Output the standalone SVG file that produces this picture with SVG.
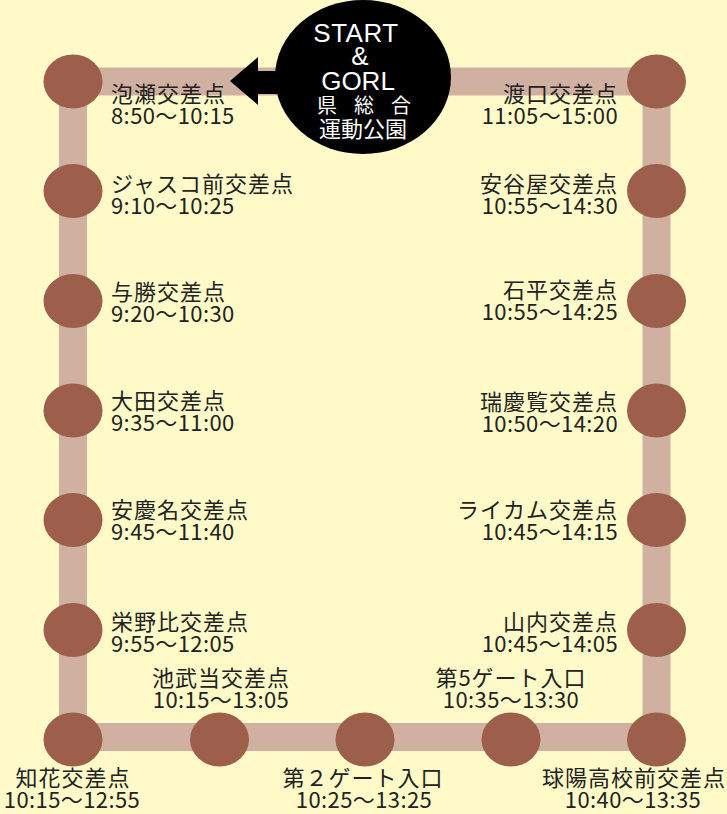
<svg xmlns="http://www.w3.org/2000/svg" width="727" height="814" viewBox="0 0 727 814">
<style>
.bg{fill:#FFFAC8}
.track{fill:none;stroke:#D0B0A0;stroke-width:28}
.stop{fill:#9D5E4C}
.lbl{font-family:"Noto Sans CJK JP","Noto Sans",sans-serif;font-size:22px;fill:#222;letter-spacing:1px}
.t{letter-spacing:0.4px}
.r{text-anchor:end}
.c{text-anchor:middle}
.w{font-family:"Noto Sans CJK JP","Noto Sans",sans-serif;fill:#fff;text-anchor:middle}
.lat{font-family:"Liberation Sans",sans-serif;font-size:26px}
</style>
<rect class="bg" x="0" y="0" width="727" height="814"/>
<g id="connectors">
<path class="track" d="M73 81.5 H656.5 V737 H73 Z"/>
</g>
<g id="n-start">
<polygon points="230,81 258,57 258,71 290,71 290,94 258,94 258,105" fill="#000"/>
<ellipse cx="363" cy="77" rx="88" ry="77" fill="#000"/>
<text class="w lat" x="356" y="42" letter-spacing="0.5">START</text>
<text class="w lat" x="360" y="65">&amp;</text>
<text class="w lat" x="358" y="90">GORL</text>
<text class="w" x="327 364 401" y="113" font-size="20">県総合</text>
<text class="w" x="363" y="137" font-size="22">運動公園</text>
</g>
<g id="n-awase"><ellipse class="stop" cx="73" cy="81.5" rx="29.5" ry="27"/><text class="lbl" x="111" y="102">泡瀬交差点</text><text class="lbl t" x="111" y="124">8:50〜10:15</text></g>
<g id="n-jusco"><ellipse class="stop" cx="73" cy="191" rx="29.5" ry="27"/><text class="lbl" x="111" y="192">ジャスコ前交差点</text><text class="lbl t" x="111" y="214">9:10〜10:25</text></g>
<g id="n-yokatsu"><ellipse class="stop" cx="73" cy="301" rx="29.5" ry="27"/><text class="lbl" x="111" y="300">与勝交差点</text><text class="lbl t" x="111" y="322">9:20〜10:30</text></g>
<g id="n-ota"><ellipse class="stop" cx="73" cy="410.5" rx="29.5" ry="27"/><text class="lbl" x="111" y="409">大田交差点</text><text class="lbl t" x="111" y="431">9:35〜11:00</text></g>
<g id="n-agena"><ellipse class="stop" cx="73" cy="520" rx="29.5" ry="27"/><text class="lbl" x="111" y="518">安慶名交差点</text><text class="lbl t" x="111" y="540">9:45〜11:40</text></g>
<g id="n-eiji"><ellipse class="stop" cx="73" cy="630" rx="29.5" ry="27"/><text class="lbl" x="111" y="630">栄野比交差点</text><text class="lbl t" x="111" y="652">9:55〜12:05</text></g>
<g id="n-chibana"><ellipse class="stop" cx="73" cy="739.5" rx="29.5" ry="27"/><text class="lbl c" x="73" y="786">知花交差点</text><text class="lbl t c" x="72" y="808">10:15〜12:55</text></g>
<g id="n-iketake"><ellipse class="stop" cx="219.5" cy="739.5" rx="29.5" ry="27"/><text class="lbl c" x="221" y="686">池武当交差点</text><text class="lbl t c" x="221" y="708">10:15〜13:05</text></g>
<g id="n-gate2"><ellipse class="stop" cx="365" cy="739.5" rx="29.5" ry="27"/><text class="lbl c" x="363" y="786">第２ゲート入口</text><text class="lbl t c" x="364" y="808">10:25〜13:25</text></g>
<g id="n-gate5"><ellipse class="stop" cx="511" cy="739.5" rx="29.5" ry="27"/><text class="lbl c" x="511" y="686">第5ゲート入口</text><text class="lbl t c" x="511" y="708">10:35〜13:30</text></g>
<g id="n-kyuyo"><ellipse class="stop" cx="656.5" cy="739.5" rx="29.5" ry="27"/><text class="lbl c" x="634" y="786">球陽高校前交差点</text><text class="lbl t c" x="633" y="808">10:40〜13:35</text></g>
<g id="n-yamauchi"><ellipse class="stop" cx="656.5" cy="630" rx="29.5" ry="27"/><text class="lbl r" x="618" y="630">山内交差点</text><text class="lbl t r" x="618" y="652">10:45〜14:05</text></g>
<g id="n-raikam"><ellipse class="stop" cx="656.5" cy="520" rx="29.5" ry="27"/><text class="lbl r" x="618" y="518">ライカム交差点</text><text class="lbl t r" x="618" y="540">10:45〜14:15</text></g>
<g id="n-zukeran"><ellipse class="stop" cx="656.5" cy="410.5" rx="29.5" ry="27"/><text class="lbl r" x="618" y="410">瑞慶覧交差点</text><text class="lbl t r" x="618" y="432">10:50〜14:20</text></g>
<g id="n-ishindja"><ellipse class="stop" cx="656.5" cy="301" rx="29.5" ry="27"/><text class="lbl r" x="618" y="298">石平交差点</text><text class="lbl t r" x="618" y="320">10:55〜14:25</text></g>
<g id="n-adaniya"><ellipse class="stop" cx="656.5" cy="191" rx="29.5" ry="27"/><text class="lbl r" x="618" y="192">安谷屋交差点</text><text class="lbl t r" x="618" y="214">10:55〜14:30</text></g>
<g id="n-toguchi"><ellipse class="stop" cx="656.5" cy="81.5" rx="29.5" ry="27"/><text class="lbl r" x="618" y="102">渡口交差点</text><text class="lbl t r" x="618" y="124">11:05〜15:00</text></g>
</svg>
